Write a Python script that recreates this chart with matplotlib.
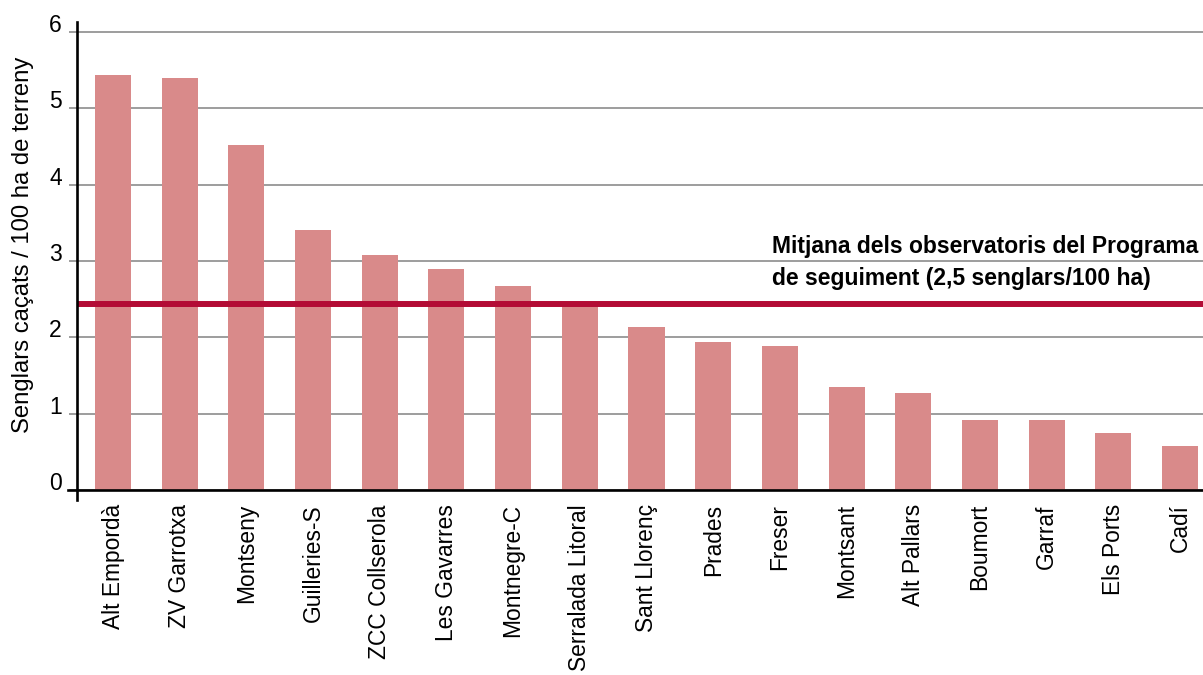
import matplotlib.pyplot as plt

plt.rcParams['font.family'] = ['Liberation Sans', 'DejaVu Sans']

zones = ['Alt Empordà', 'ZV Garrotxa', 'Montseny', 'Guilleries-S', 'ZCC Collserola',
         'Les Gavarres', 'Montnegre-C', 'Serralada Litoral', 'Sant Llorenç', 'Prades',
         'Freser', 'Montsant', 'Alt Pallars', 'Boumort', 'Garraf', 'Els Ports', 'Cadí']
senglars = [5.43, 5.40, 4.52, 3.41, 3.08, 2.90, 2.67, 2.45, 2.14, 1.94,
            1.89, 1.35, 1.27, 0.92, 0.92, 0.75, 0.58]
mitjana = 2.44
yticks = [0, 1, 2, 3, 4, 5, 6]

fig = plt.figure(figsize=(12.03, 6.75), dpi=100)
ax = fig.add_axes([0.064, 0.2593, 0.936, 0.7081])

x = range(len(zones))
ax.bar(x, senglars, width=0.54, color='#d98a8a', zorder=2)
ax.axhline(mitjana, color='#b30c35', lw=4.3, zorder=3)
ax.axhline(0, xmin=-0.008, xmax=1, color='black', lw=1.9, zorder=4, clip_on=False)

ax.set_xlim(-0.54, 16.345)
ax.set_ylim(-0.13, 6.13)
ax.set_yticks(yticks)
ax.grid(axis='y', color='#8c8c8c', lw=1.2, zorder=1)
ax.set_xticks(list(x))
ax.set_xticklabels(zones, rotation=90, fontsize=16.4, va='top', ha='center')
ax.tick_params(axis='x', length=0, pad=3)
ax.tick_params(axis='y', length=6, color='#8c8c8c', width=1.2, pad=5, labelsize=16.5)
for lab in ax.get_yticklabels():
    lab.set_verticalalignment('baseline')

for s in ['top', 'right', 'bottom']:
    ax.spines[s].set_visible(False)
ax.spines['left'].set_linewidth(1.9)
ax.spines['left'].set_zorder(5)

ax.text(9.88, 3.106, 'Mitjana dels observatoris del Programa', fontsize=16.5,
        fontweight='bold', va='baseline', ha='left')
ax.text(9.88, 2.687, 'de seguiment (2,5 senglars/100 ha)', fontsize=16.5,
        fontweight='bold', va='baseline', ha='left')

fig.text(23 / 1203, 1 - 245 / 675, 'Senglars caçats / 100 ha de terreny',
         rotation=90, ha='center', va='center', fontsize=17.2)

plt.savefig('out.png', dpi=100)
plt.close()
